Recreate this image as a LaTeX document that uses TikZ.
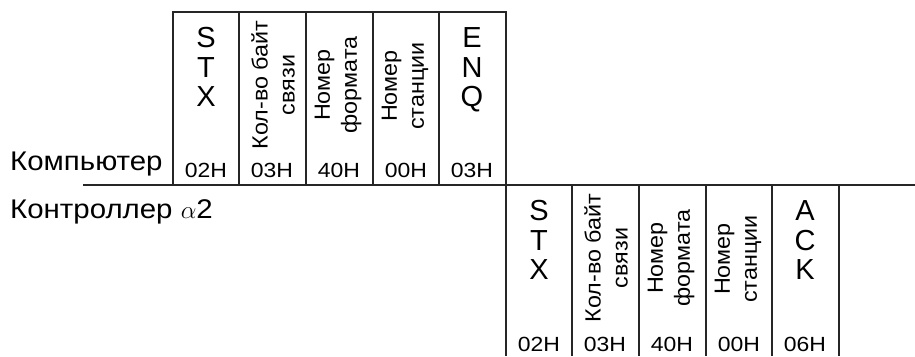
\documentclass[tikz,border=0pt]{standalone}
\usepackage{fontspec}
\setmainfont{Liberation Sans}
\newfontfamily\lblfont[FakeStretch=1.09]{Liberation Sans}
\newfontfamily\hexfont[FakeStretch=1.12]{Liberation Sans}
\newfontfamily\rotfont[FakeStretch=1.06]{Liberation Sans}
\begin{document}
\begin{tikzpicture}[x=1pt,y=-1pt,
  frame/.style={line width=1.3pt, draw=black!85},
  hexlbl/.style={font=\hexfont\fontsize{20.5}{20.5}\selectfont, anchor=base, inner sep=0pt},
  letters/.style={font=\fontsize{29}{29.5}\selectfont, align=center, anchor=north, inner sep=0pt},
  rottxt/.style={font=\rotfont\fontsize{22}{27}\selectfont, align=center, rotate=90, inner sep=0pt},
  sidelbl/.style={font=\lblfont\fontsize{27}{27}\selectfont, anchor=base west, inner sep=0pt}]
\useasboundingbox (0,0) rectangle (915,356);
% frames
\draw[frame] (173,185) -- (173,12) -- (506,12) -- (506,356);
\foreach \x in {239,306,373,439} \draw[frame] (\x,12) -- (\x,185);
\draw[frame] (83,185) -- (915,185);
\foreach \x in {572,639,706,772,839} \draw[frame] (\x,185) -- (\x,356);
% side labels
\node[sidelbl] (pc) at (10,170) {Компьютер};
\node[sidelbl] (plc) at (10,218) {Контроллер $\alpha$2};
% top message
\node[letters] (t1) at (206,27.5) {S\\T\\X};
\node[rottxt] (t2) at (273,85) {Кол-во байт\\связи};
\node[rottxt] (t3) at (338,85) {Номер\\формата};
\node[rottxt] (t4) at (405,86) {Номер\\станции};
\node[letters] (t5) at (472,27.5) {E\\N\\Q};
\node[hexlbl] (h1) at (206,177) {02H};
\node[hexlbl] (h2) at (272,177) {03H};
\node[hexlbl] (h3) at (339,177) {40H};
\node[hexlbl] (h4) at (406,177) {00H};
\node[hexlbl] (h5) at (472,177) {03H};
% bottom message
\node[letters] (b1) at (539,200.5) {S\\T\\X};
\node[rottxt] (b2) at (606,258) {Кол-во байт\\связи};
\node[rottxt] (b3) at (671,258) {Номер\\формата};
\node[rottxt] (b4) at (738,259) {Номер\\станции};
\node[letters] (b5) at (805,200.5) {A\\C\\K};
\node[hexlbl] (g1) at (539,351) {02H};
\node[hexlbl] (g2) at (605,351) {03H};
\node[hexlbl] (g3) at (672,351) {40H};
\node[hexlbl] (g4) at (739,351) {00H};
\node[hexlbl] (g5) at (805,351) {06H};
\end{tikzpicture}
\end{document}
